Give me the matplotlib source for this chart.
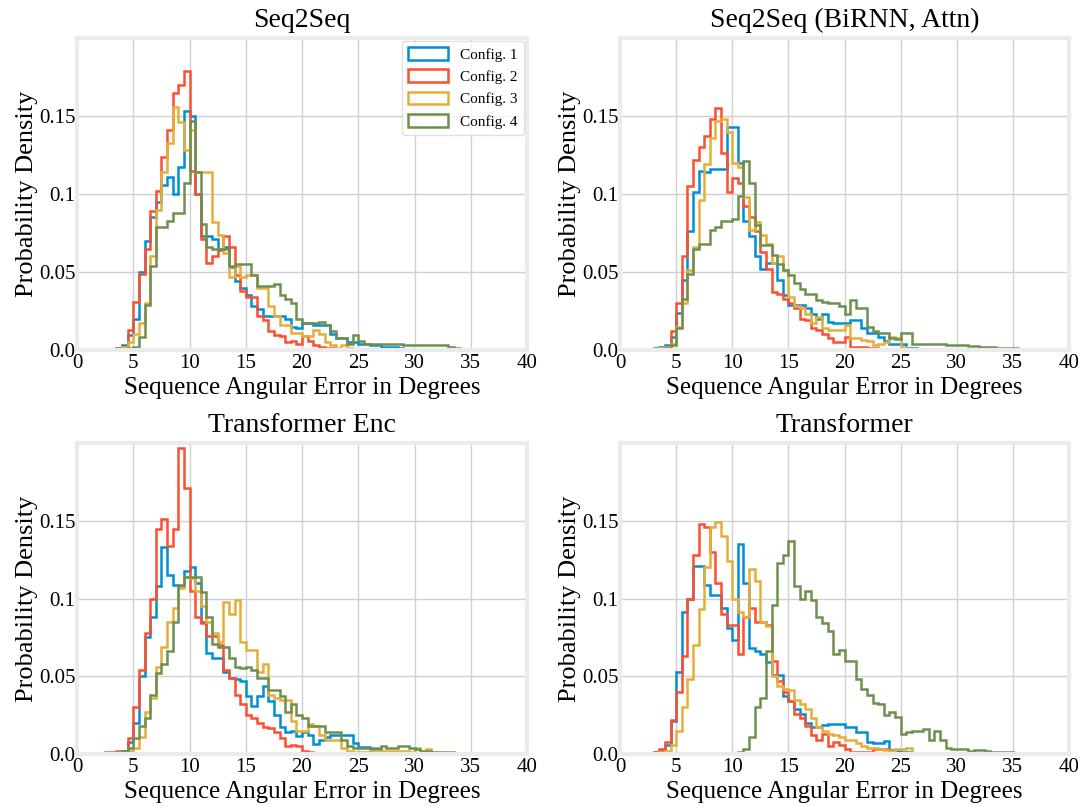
import numpy as np
import matplotlib
matplotlib.use("Agg")
import matplotlib.pyplot as plt

plt.style.use("fivethirtyeight")
plt.rcParams.update({
    "font.family": "serif",
    "font.serif": ["Liberation Serif", "DejaVu Serif"],
    "figure.facecolor": "white",
    "axes.facecolor": "white",
    "savefig.facecolor": "white",
    "savefig.edgecolor": "white",
    "axes.edgecolor": "#ebebeb",
    "axes.linewidth": 3,
    "grid.color": "#d0d0d0",
    "grid.linewidth": 1.0,
})

BIN = 0.5
titles = ["Seq2Seq", "Seq2Seq (BiRNN, Attn)", "Transformer Enc", "Transformer"]
config_labels = ["Config. 1", "Config. 2", "Config. 3", "Config. 4"]
colors = ["#008fd5", "#fc4f30", "#e5ae38", "#6d904f"]
xticks = [0, 5, 10, 15, 20, 25, 30, 35, 40]
yticks = [0.0, 0.05, 0.1, 0.15]
ytick_labels = ["0.0", "0.05", "0.1", "0.15"]

# ---------- Seq2Seq ----------
s2s_start = [3.5, 3.0, 4.0, 4.5]
s2s_c1 = [0.001, 0.003, 0.0096, 0.020, 0.050, 0.070, 0.085, 0.095, 0.106, 0.111, 0.100, 0.117,
          0.153, 0.150, 0.100, 0.073, 0.073, 0.071, 0.064, 0.066, 0.053, 0.044, 0.040, 0.035,
          0.028, 0.026, 0.022, 0.022, 0.022, 0.022, 0.020, 0.015, 0.014, 0.017, 0.017, 0.016,
          0.016, 0.016, 0.010, 0.0075, 0.0075, 0.005, 0.005, 0.004, 0.004, 0.003, 0.003, 0.002,
          0.0017, 0.0017, 0.0015, 0.0005]
s2s_c2 = [0.0005, 0.001, 0.002, 0.013, 0.031, 0.049, 0.065, 0.089, 0.102, 0.124, 0.141, 0.165,
          0.170, 0.179, 0.115, 0.100, 0.071, 0.056, 0.060, 0.065, 0.073, 0.066, 0.048, 0.038,
          0.034, 0.034, 0.022, 0.019, 0.012, 0.0096, 0.009, 0.005, 0.006, 0.004, 0.009, 0.006,
          0.003, 0.002, 0.001, 0.001]
s2s_c3 = [0.002, 0.005, 0.010, 0.017, 0.030, 0.060, 0.090, 0.114, 0.133, 0.156, 0.146, 0.128,
          0.141, 0.114, 0.114, 0.114, 0.082, 0.074, 0.062, 0.047, 0.054, 0.047, 0.048, 0.048,
          0.040, 0.040, 0.028, 0.022, 0.016, 0.016, 0.011, 0.011, 0.009, 0.009, 0.013, 0.010,
          0.005, 0.003, 0.001, 0.003, 0.001]
s2s_c4 = [0.001, 0.002, 0.0085, 0.029, 0.054, 0.079, 0.079, 0.083, 0.088, 0.088, 0.107, 0.147,
          0.114, 0.081, 0.066, 0.065, 0.065, 0.065, 0.054, 0.055, 0.055, 0.055, 0.048, 0.041,
          0.041, 0.041, 0.042, 0.035, 0.033, 0.030, 0.020, 0.017, 0.017, 0.017, 0.018, 0.016,
          0.012, 0.0075, 0.0075, 0.004, 0.0096, 0.006, 0.004, 0.004, 0.004, 0.004, 0.004, 0.004,
          0.004, 0.003, 0.003, 0.003, 0.003, 0.003, 0.003, 0.003, 0.003, 0.002, 0.001, 0.0005]

# ---------- Seq2Seq (BiRNN, Attn) ----------
bi_start = [3.0, 3.0, 3.5, 4.0]
bi_c1 = [0.001, 0.002, 0.003, 0.0085, 0.024, 0.045, 0.076, 0.101, 0.115, 0.114, 0.116, 0.116,
         0.116, 0.143, 0.143, 0.120, 0.083, 0.073, 0.060, 0.052, 0.056, 0.056, 0.045, 0.035,
         0.029, 0.029, 0.029, 0.027, 0.023, 0.020, 0.023, 0.018, 0.017, 0.017, 0.017, 0.019,
         0.019, 0.014, 0.011, 0.011, 0.0085, 0.006, 0.004, 0.004, 0.004, 0.001, 0.001, 0.0005,
         0.0005]
bi_c2 = [0.0005, 0.001, 0.002, 0.012, 0.030, 0.060, 0.105, 0.122, 0.130, 0.137, 0.148, 0.155,
         0.126, 0.101, 0.110, 0.107, 0.092, 0.085, 0.076, 0.063, 0.052, 0.037, 0.036, 0.033,
         0.030, 0.027, 0.020, 0.019, 0.014, 0.013, 0.010, 0.0075, 0.005, 0.005, 0.0085, 0.002,
         0.002, 0.002, 0.001, 0.001, 0.0005]
bi_c3 = [0.001, 0.002, 0.004, 0.015, 0.030, 0.051, 0.066, 0.096, 0.119, 0.136, 0.147, 0.148,
         0.140, 0.120, 0.117, 0.098, 0.077, 0.082, 0.074, 0.068, 0.056, 0.060, 0.051, 0.034,
         0.028, 0.027, 0.023, 0.017, 0.021, 0.014, 0.013, 0.013, 0.013, 0.016, 0.0075, 0.0075,
         0.0064, 0.006, 0.003, 0.004, 0.005, 0.0085, 0.008, 0.002]
bi_c4 = [0.001, 0.003, 0.014, 0.033, 0.049, 0.065, 0.068, 0.068, 0.077, 0.079, 0.083, 0.083,
         0.084, 0.099, 0.121, 0.107, 0.080, 0.067, 0.067, 0.061, 0.055, 0.051, 0.048, 0.043,
         0.039, 0.036, 0.036, 0.032, 0.031, 0.030, 0.030, 0.028, 0.023, 0.032, 0.027, 0.027,
         0.015, 0.012, 0.011, 0.011, 0.0075, 0.007, 0.011, 0.011, 0.004, 0.004, 0.004, 0.004,
         0.0038, 0.0038, 0.0035, 0.0035, 0.003, 0.003, 0.0025, 0.0025, 0.002, 0.002, 0.002,
         0.0015, 0.0012, 0.001, 0.001, 0.0008, 0.0006, 0.0005, 0.0004]

# ---------- Transformer Enc ----------
enc_start = [3.0, 2.5, 3.5, 3.5]
enc_c1 = [0.0005, 0.001, 0.002, 0.008, 0.020, 0.050, 0.075, 0.088, 0.108, 0.133, 0.115, 0.109,
          0.108, 0.118, 0.120, 0.110, 0.085, 0.065, 0.062, 0.062, 0.053, 0.049, 0.048, 0.047,
          0.037, 0.031, 0.037, 0.044, 0.034, 0.025, 0.0175, 0.014, 0.015, 0.0115, 0.014, 0.012,
          0.0064, 0.009, 0.011, 0.012, 0.012, 0.012, 0.012, 0.007, 0.0047, 0.0047, 0.0035,
          0.0035, 0.0015, 0.0015, 0.001, 0.0008]
enc_c2 = [0.001, 0.001, 0.002, 0.002, 0.010, 0.030, 0.054, 0.078, 0.100, 0.145, 0.151, 0.134,
          0.145, 0.197, 0.171, 0.105, 0.088, 0.084, 0.076, 0.076, 0.070, 0.054, 0.049, 0.038,
          0.032, 0.025, 0.023, 0.020, 0.0175, 0.017, 0.014, 0.010, 0.005, 0.006, 0.005, 0.002,
          0.001, 0.0005, 0.0005, 0.0003]
enc_c3 = [0.001, 0.001, 0.002, 0.004, 0.011, 0.027, 0.036, 0.056, 0.069, 0.085, 0.094, 0.107,
          0.114, 0.113, 0.105, 0.095, 0.085, 0.078, 0.072, 0.098, 0.090, 0.099, 0.072, 0.067,
          0.067, 0.053, 0.058, 0.038, 0.036, 0.035, 0.035, 0.021, 0.015, 0.015, 0.019, 0.018,
          0.012, 0.009, 0.009, 0.009, 0.0036, 0.002, 0.0015, 0.0015, 0.0015, 0.002, 0.002, 0.002,
          0.002, 0.002, 0.002, 0.002, 0.0015, 0.004, 0.002, 0.003, 0.001]
enc_c4 = [0.001, 0.002, 0.004, 0.010, 0.018, 0.023, 0.038, 0.052, 0.058, 0.066, 0.085, 0.109,
          0.114, 0.114, 0.114, 0.104, 0.088, 0.071, 0.069, 0.069, 0.062, 0.056, 0.055, 0.056,
          0.054, 0.049, 0.049, 0.041, 0.041, 0.037, 0.027, 0.032, 0.025, 0.023, 0.018, 0.018,
          0.018, 0.014, 0.014, 0.014, 0.009, 0.005, 0.004, 0.0036, 0.0036, 0.004, 0.004, 0.005,
          0.004, 0.004, 0.005, 0.005, 0.004, 0.003, 0.002, 0.002, 0.0015, 0.001, 0.001, 0.001,
          0.0005]

# ---------- Transformer ----------
tr_start = [2.5, 2.5, 3.0, 10.5]
tr_c1 = [0.0005, 0.001, 0.002, 0.006, 0.021, 0.053, 0.091, 0.100, 0.121, 0.121, 0.109, 0.102,
         0.102, 0.094, 0.081, 0.073, 0.135, 0.110, 0.068, 0.066, 0.064, 0.059, 0.051, 0.051,
         0.037, 0.034, 0.029, 0.026, 0.020, 0.0175, 0.0175, 0.0185, 0.019, 0.019, 0.019, 0.0175,
         0.0175, 0.014, 0.014, 0.008, 0.007, 0.007, 0.0085, 0.0026, 0.002, 0.001, 0.001, 0.0008,
         0.0005, 0.0004, 0.0003]
tr_c2 = [0.0005, 0.001, 0.003, 0.008, 0.022, 0.040, 0.063, 0.100, 0.128, 0.148, 0.146, 0.130,
         0.110, 0.090, 0.083, 0.083, 0.064, 0.088, 0.094, 0.085, 0.085, 0.083, 0.060, 0.047,
         0.040, 0.034, 0.026, 0.023, 0.018, 0.012, 0.009, 0.013, 0.005, 0.008, 0.006, 0.003,
         0.0015, 0.0015, 0.0015, 0.0015, 0.003, 0.003, 0.003, 0.002, 0.0005]
tr_c3 = [0.0005, 0.001, 0.002, 0.006, 0.015, 0.030, 0.048, 0.070, 0.093, 0.120, 0.146, 0.149,
         0.140, 0.124, 0.100, 0.091, 0.088, 0.119, 0.111, 0.085, 0.082, 0.050, 0.044, 0.042,
         0.041, 0.035, 0.032, 0.029, 0.023, 0.0175, 0.015, 0.013, 0.012, 0.011, 0.009, 0.009,
         0.0068, 0.005, 0.0036, 0.0036, 0.003, 0.0026, 0.002, 0.003, 0.003, 0.0036]
tr_c4 = [0.001, 0.003, 0.011, 0.030, 0.036, 0.066, 0.096, 0.123, 0.128, 0.137, 0.108, 0.100,
         0.105, 0.099, 0.088, 0.084, 0.079, 0.064, 0.067, 0.060, 0.060, 0.0485, 0.042, 0.038,
         0.033, 0.032, 0.025, 0.027, 0.024, 0.013, 0.014, 0.015, 0.015, 0.016, 0.009, 0.015,
         0.009, 0.0036, 0.003, 0.003, 0.003, 0.002, 0.0025, 0.0025, 0.002, 0.0015, 0.001, 0.001,
         0.001, 0.0008, 0.0008, 0.0005, 0.0005, 0.0005]

panels = [
    (s2s_start, [s2s_c1, s2s_c2, s2s_c3, s2s_c4]),
    (bi_start, [bi_c1, bi_c2, bi_c3, bi_c4]),
    (enc_start, [enc_c1, enc_c2, enc_c3, enc_c4]),
    (tr_start, [tr_c1, tr_c2, tr_c3, tr_c4]),
]

fig = plt.figure(figsize=(10.86, 8.07), dpi=100)
W, H = 1086.0, 807.0
rects = [
    [77 / W, 1 - 350 / H, 450 / W, 312 / H],
    [620 / W, 1 - 350 / H, 449 / W, 312 / H],
    [77 / W, 1 - 754 / H, 450 / W, 311 / H],
    [620 / W, 1 - 754 / H, 449 / W, 311 / H],
]

for i, (rect, title, (starts, series)) in enumerate(zip(rects, titles, panels)):
    ax = fig.add_axes(rect)
    for start, vals, color, lab in zip(starts, series, colors, config_labels):
        vals = np.asarray(vals, dtype=float)
        edges = start + BIN * np.arange(len(vals) + 1)
        centers = edges[:-1] + BIN / 2
        ax.hist(centers, bins=edges, weights=vals, histtype="step",
                color=color, linewidth=1.8, label=lab)
    ax.set_xlim(0, 40)
    ax.set_ylim(0, 0.2)
    ax.set_xticks(xticks)
    ax.set_yticks(yticks)
    ax.set_yticklabels(ytick_labels)
    ax.tick_params(axis="y", labelsize=15, pad=1, length=0)
    ax.tick_params(axis="x", labelsize=15, pad=3, length=0)
    ax.set_title(title, fontsize=20, pad=8)
    ax.set_xlabel("Sequence Angular Error in Degrees", fontsize=18, labelpad=3)
    ax.set_ylabel("Probability Density", fontsize=19, labelpad=1)
    ax.grid(True)
    ax.set_axisbelow(True)
    if i == 0:
        leg = ax.legend(loc="upper right", fontsize=11, frameon=True,
                        fancybox=True, handlelength=2.6, handleheight=0.9,
                        labelspacing=0.5, borderaxespad=0.2)
        leg.get_frame().set_facecolor("white")
        leg.get_frame().set_edgecolor("#d9d9d9")
        leg.get_frame().set_linewidth(1.0)

fig.savefig("out.png", dpi=100)
